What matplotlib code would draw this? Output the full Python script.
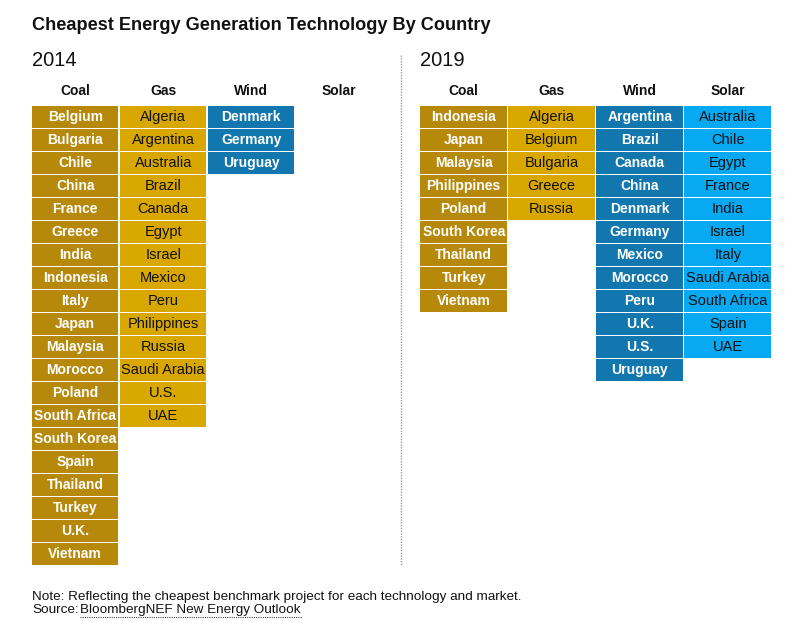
import matplotlib
matplotlib.use('Agg')
import matplotlib.pyplot as plt

plt.rcParams['font.family'] = ['Liberation Sans', 'DejaVu Sans']

# Datos
tecnologias = ['Coal', 'Gas', 'Wind', 'Solar']

paises_2014 = {
    'Coal': ['Belgium', 'Bulgaria', 'Chile', 'China', 'France', 'Greece', 'India',
             'Indonesia', 'Italy', 'Japan', 'Malaysia', 'Morocco', 'Poland',
             'South Africa', 'South Korea', 'Spain', 'Thailand', 'Turkey', 'U.K.',
             'Vietnam'],
    'Gas': ['Algeria', 'Argentina', 'Australia', 'Brazil', 'Canada', 'Egypt', 'Israel',
            'Mexico', 'Peru', 'Philippines', 'Russia', 'Saudi Arabia', 'U.S.', 'UAE'],
    'Wind': ['Denmark', 'Germany', 'Uruguay'],
    'Solar': [],
}

paises_2019 = {
    'Coal': ['Indonesia', 'Japan', 'Malaysia', 'Philippines', 'Poland', 'South Korea',
             'Thailand', 'Turkey', 'Vietnam'],
    'Gas': ['Algeria', 'Belgium', 'Bulgaria', 'Greece', 'Russia'],
    'Wind': ['Argentina', 'Brazil', 'Canada', 'China', 'Denmark', 'Germany', 'Mexico',
             'Morocco', 'Peru', 'U.K.', 'U.S.', 'Uruguay'],
    'Solar': ['Australia', 'Chile', 'Egypt', 'France', 'India', 'Israel', 'Italy',
              'Saudi Arabia', 'South Africa', 'Spain', 'UAE'],
}

# Estilos
colores = {'Coal': '#B6890A', 'Gas': '#D9A800', 'Wind': '#1277AE', 'Solar': '#08A9F3'}
color_texto = {'Coal': 'white', 'Gas': '#111111', 'Wind': 'white', 'Solar': '#111111'}
peso_texto = {'Coal': 'bold', 'Gas': 'normal', 'Wind': 'bold', 'Solar': 'normal'}
size_texto = {'Coal': 10, 'Gas': 10.5, 'Wind': 10, 'Solar': 10.5}

# Dimensiones (pixeles)
w_celda = 86.5
paso_x = 88
h_celda = 22
paso_y = 23
y_top = 105.5
h_header = 91

fig = plt.figure(figsize=(8.04, 6.37), dpi=100)
ax = fig.add_axes([0, 0, 1, 1])
ax.set_xlim(0, 804)
ax.set_ylim(637, 0)
ax.axis('off')


def dibujar_panel(x0, anio, datos):
    ax.text(x0, 60, anio, ha='left', va='center', fontsize=14.5, color='#111111')
    for j, tec in enumerate(tecnologias):
        xc = x0 + j * paso_x + w_celda / 2
        ax.text(xc, h_header, tec, ha='center', va='center', fontsize=10,
                weight='bold', color='#111111')
        nombres = datos[tec]
        if not nombres:
            continue
        bottoms = [y_top + i * paso_y for i in range(len(nombres))]
        ax.bar([xc] * len(nombres), [h_celda] * len(nombres), width=w_celda,
               bottom=bottoms, color=colores[tec], linewidth=0)
        for b, nm in zip(bottoms, nombres):
            ax.text(xc, b + h_celda / 2 + 0.5, nm, ha='center', va='center',
                    fontsize=size_texto[tec], color=color_texto[tec],
                    weight=peso_texto[tec])


dibujar_panel(32, '2014', paises_2014)
dibujar_panel(420.5, '2019', paises_2019)

# Separador punteado
ax.vlines(401, 55, 566, colors='#9a9a9a', linestyles=(0, (1, 1)), linewidth=1)

# Titulo
ax.text(32, 25, 'Cheapest Energy Generation Technology By Country', ha='left',
        va='center', fontsize=13.1, weight='bold', color='#111111')

# Notas
ax.text(32, 597, 'Note: Reflecting the cheapest benchmark project for each technology and market.',
        ha='left', va='center', fontsize=9.7, color='#111111')
ax.text(32, 610, 'Source:', ha='left', va='center', fontsize=9.7, color='#111111')
ax.text(80, 610, 'BloombergNEF New Energy Outlook', ha='left', va='center',
        fontsize=9.7, color='#111111')
ax.hlines(617, 80, 302, colors='#444444', linestyles=(0, (1, 1)), linewidth=0.8)

fig.savefig('out.png', dpi=100)
